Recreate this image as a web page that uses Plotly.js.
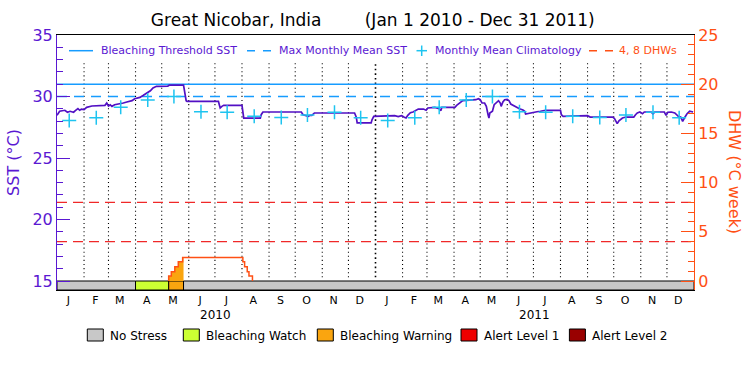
<!DOCTYPE html>
<html>
<head>
<meta charset="utf-8">
<script src="https://cdn.plot.ly/plotly-3.0.1.min.js"></script>
<style>html,body{margin:0;padding:0;background:#fff}#chart{width:750px;height:375px}</style>
</head>
<body>
<div id="chart"></div>
<script>
// ---------------- data ----------------
const sstDates = ['2010-01-01','2010-01-04','2010-01-10','2010-01-13','2010-01-16','2010-01-20','2010-01-22','2010-01-25','2010-01-27','2010-01-29',
'2010-02-01','2010-02-04','2010-02-10','2010-02-25','2010-02-27','2010-03-01','2010-03-03','2010-03-05','2010-03-08','2010-03-14',
'2010-03-18','2010-03-22','2010-03-28','2010-03-31','2010-04-06','2010-04-10','2010-04-14','2010-04-18','2010-04-21','2010-04-25',
'2010-05-08','2010-05-10','2010-05-26','2010-05-27','2010-05-28','2010-05-29','2010-05-30','2010-07-05','2010-07-06','2010-07-07',
'2010-07-09','2010-07-11','2010-08-01','2010-08-02','2010-08-03','2010-08-22','2010-08-23','2010-08-25','2010-10-08','2010-10-10',
'2010-10-14','2010-10-16','2010-10-18','2010-10-20','2010-10-23','2010-12-08','2010-12-10','2010-12-11','2010-12-27','2010-12-28',
'2010-12-30','2011-01-08','2011-01-12','2011-01-23','2011-01-27','2011-01-31','2011-02-03','2011-02-05','2011-02-07','2011-02-10',
'2011-02-13','2011-02-15','2011-02-19','2011-02-25','2011-02-28','2011-03-02','2011-03-10','2011-03-15','2011-03-17','2011-03-18',
'2011-04-02','2011-04-04','2011-04-07','2011-04-11','2011-04-26','2011-04-29','2011-05-01','2011-05-03','2011-05-06','2011-05-08',
'2011-05-10','2011-05-11','2011-05-12','2011-05-15','2011-05-17','2011-05-20','2011-05-22','2011-05-24','2011-05-25','2011-05-27',
'2011-05-29','2011-06-01','2011-06-03','2011-06-05','2011-06-08','2011-06-11','2011-06-15','2011-06-19','2011-06-21','2011-06-22',
'2011-06-25','2011-06-29','2011-07-05','2011-07-09','2011-07-15','2011-08-01','2011-08-02','2011-08-04','2011-08-07','2011-08-09',
'2011-09-01','2011-09-04','2011-09-30','2011-10-02','2011-10-04','2011-10-05','2011-10-07','2011-10-11','2011-10-15','2011-10-24',
'2011-10-26','2011-10-28','2011-10-31','2011-11-03','2011-11-05','2011-11-13','2011-11-15','2011-11-17','2011-11-28','2011-11-30',
'2011-12-02','2011-12-06','2011-12-10','2011-12-14','2011-12-17','2011-12-19','2011-12-21','2011-12-24','2011-12-27','2011-12-31'];
const sstValues = [28.47,28.80,28.88,28.72,28.80,28.72,28.85,29.01,28.88,28.98,
28.93,29.12,29.23,29.28,29.47,29.23,29.33,29.20,29.33,29.39,
29.47,29.55,29.66,29.82,29.93,30.10,30.28,30.47,30.69,30.83,
30.85,30.93,30.93,30.47,30.15,29.66,29.61,29.61,29.33,29.07,
29.20,29.28,29.28,28.80,28.25,28.25,28.52,28.74,28.74,28.52,
28.39,28.39,28.47,28.47,28.66,28.66,28.31,27.85,27.85,28.11,
28.39,28.39,28.44,28.44,28.36,28.44,28.31,28.25,28.47,28.68,
28.74,28.80,28.98,28.98,28.88,29.07,29.12,29.01,28.85,29.12,
29.12,29.28,29.47,29.66,29.74,29.82,29.74,29.47,29.47,29.20,
28.52,28.25,28.66,28.80,29.33,29.55,29.66,29.47,29.20,29.55,
29.74,29.77,29.66,29.39,29.28,29.12,29.01,28.90,28.80,28.58,
28.63,28.72,28.76,28.80,28.88,28.88,28.52,28.39,28.39,28.44,
28.44,28.33,28.33,28.20,27.98,27.79,28.03,28.25,28.33,28.33,
28.52,28.66,28.74,28.60,28.74,28.74,28.58,28.74,28.74,28.47,
28.72,28.74,28.66,28.39,28.31,27.98,28.25,28.60,28.80,28.74];

const years = [2010, 2011];
const monthLetters = ['J','F','M','A','M','J','J','A','S','O','N','D'];
const climatology = [28.05,28.28,29.12,29.72,30.00,28.76,28.72,28.40,28.30,28.50,28.72,28.27];
const maxMonthlyMean = 30.0;
const bleachingThreshold = 31.0;
const dhwLevels = [4, 8];

const dhwDates = ['2010-05-09','2010-05-09','2010-05-12','2010-05-16','2010-05-20','2010-05-25','2010-08-02','2010-08-04','2010-08-07','2010-08-09','2010-08-13'];
const dhwValues = [0,0.5,0.95,1.45,1.95,2.4,1.95,1.45,0.95,0.5,0];

const stressStart = ['2010-01-01','2010-04-01','2010-05-09','2010-05-26'];
const stressEnd   = ['2010-04-01','2010-05-09','2010-05-26','2012-01-01'];
const stressLevel = [0,1,2,0];
const stressNames = ['No Stress','Bleaching Watch','Bleaching Warning','Alert Level 1','Alert Level 2'];
const stressColors = ['#c8c8c8','#ccff33','#faa50f','#ee0000','#990000'];

const legendNames = ['Bleaching Threshold SST','Max Monthly Mean SST','Monthly Mean Climatology','4, 8 DHWs'];

// ---------------- styling ----------------
const FONT = 'DejaVu Sans';
const PURPLE = '#5a18d2';
const ORANGE = '#ff5014';
const BLUE = '#169cff';
const CYAN = '#1ec4f0';
const DHWRED = '#f02828';
const START = '2010-01-01', END = '2012-01-01';
const sstMin = 14.27, sstMax = 35, dhwMin = -0.915, dhwMax = 25;

function ms(d){ const p=d.split('-').map(Number); return Date.UTC(p[0],p[1]-1,p[2]); }
function pad(n){ return (n<10?'0':'')+n; }

const climDates = [], climVals = [];
years.forEach(y => climatology.forEach((v,i) => { climDates.push(y+'-'+pad(i+1)+'-15'); climVals.push(v); }));
const tickVals = [], tickText = [];
years.forEach(y => monthLetters.forEach((m,i) => { tickVals.push(y+'-'+pad(i+1)+'-14'); tickText.push(m); }));

// warning fill from DHW data limited to warning period
const warnIdx = stressLevel.indexOf(2);
const wS = ms(stressStart[warnIdx]), wE = ms(stressEnd[warnIdx]);
const fillX = [], fillY = [];
dhwDates.forEach((d,i)=>{ const t=ms(d); if(t>=wS && t<=wE){ fillX.push(d); fillY.push(dhwValues[i]); } });
fillX.push(stressEnd[warnIdx]); fillY.push(fillY[fillY.length-1]);
fillX.push(stressEnd[warnIdx]); fillY.push(0);

const dhwRefX = [], dhwRefY = [];
dhwLevels.forEach(l => { dhwRefX.push(START, END, null); dhwRefY.push(l, l, null); });

const traces = [
  { type:'bar', x: stressStart, y: stressStart.map(()=> -dhwMin), base: dhwMin,
    width: stressStart.map((s,i)=> ms(stressEnd[i]) - ms(s)), offset: 0,
    marker:{ color: stressLevel.map(l=>stressColors[l]), line:{color:'#000', width:1} },
    yaxis:'y2', showlegend:false, hoverinfo:'skip', name:'Stress level' },
  { type:'scatter', mode:'lines', x: dhwRefX, y: dhwRefY, yaxis:'y2', name: legendNames[3], showlegend:false,
    line:{color:DHWRED, width:1.2, dash:'10px,6px'} },
  { type:'scatter', mode:'lines', x: fillX, y: fillY, yaxis:'y2', fill:'tozeroy',
    fillcolor: stressColors[2], line:{width:0, shape:'hv'}, showlegend:false, hoverinfo:'skip' },
  { type:'scatter', mode:'lines', x: dhwDates, y: dhwValues, yaxis:'y2', name:'DHW',
    line:{color:ORANGE, width:1.5, shape:'hv'}, showlegend:false },
  { type:'scatter', mode:'lines', x:[START, END], y:[bleachingThreshold, bleachingThreshold],
    name: legendNames[0], showlegend:false, line:{color:BLUE, width:1.5} },
  { type:'scatter', mode:'lines', x:[START, END], y:[maxMonthlyMean, maxMonthlyMean],
    name: legendNames[1], showlegend:false, line:{color:BLUE, width:1.5, dash:'10px,7px'} },
  { type:'scatter', mode:'lines', x: sstDates, y: sstValues, name:'SST', line:{color:'#5210c4', width:1.7},
    showlegend:false },
  { type:'scatter', mode:'markers', x: climDates, y: climVals, name: legendNames[2], showlegend:false,
    marker:{symbol:'cross-thin', size:10, line:{color:CYAN, width:1.5}, color:CYAN} }
];

// geometry helpers (pixel -> paper)
const plotL = 57, plotW = 637, plotB = 290, plotH = 255;
const px = v => (v - plotL)/plotW;
const py = v => (plotB - v)/plotH;

// month boundary dotted lines
const shapes = [];
years.forEach(y => { for(let m=1;m<=12;m++){ if(y===years[0] && m===1) continue;
  const isYear = (m===1);
  shapes.push({type:'line', xref:'x', yref:'y', x0: y+'-'+pad(m)+'-01', x1: y+'-'+pad(m)+'-01', y0:15.3, y1:32.7,
    line:{color:'#000', width: isYear?1.6:1.1, dash: isYear?'1.6px,3px':'1.1px,3px'}, layer:'below'}); } });

const annotations = [];
// top legend (drawn manually to match the original compact layout)
const legY = py(50.7);
shapes.push({type:'line', xref:'paper', yref:'paper', x0:px(69), x1:px(93), y0:legY, y1:legY, line:{color:BLUE, width:1.5}});
shapes.push({type:'line', xref:'paper', yref:'paper', x0:px(247), x1:px(271), y0:legY, y1:legY, line:{color:BLUE, width:1.5, dash:'8px,8px'}});
shapes.push({type:'line', xref:'paper', yref:'paper', x0:px(416.5), x1:px(427), y0:legY, y1:legY, line:{color:CYAN, width:1.5}});
shapes.push({type:'line', xref:'paper', yref:'paper', x0:px(421.7), x1:px(421.7), y0:py(45.5), y1:py(56), line:{color:CYAN, width:1.5}});
shapes.push({type:'line', xref:'paper', yref:'paper', x0:px(589), x1:px(613), y0:legY, y1:legY, line:{color:ORANGE, width:1.5, dash:'8px,8px'}});
const legTextX = [99, 277, 433, 617];
const legColors = [PURPLE, PURPLE, PURPLE, ORANGE];
legendNames.forEach((n,i) => annotations.push({xref:'paper', yref:'paper', x:px(legTextX[i]), y:legY, xanchor:'left', yanchor:'middle',
  text:n, showarrow:false, font:{family:FONT, size:11, color:legColors[i]}}));

// stress legend (below plot)
const boxX = [87.3, 183.3, 317.3, 461, 569.4];
stressNames.forEach((n,i) => {
  shapes.push({type:'rect', xref:'paper', yref:'paper', x0:px(boxX[i]), x1:px(boxX[i]+16), y0:py(329), y1:py(341),
    fillcolor: stressColors[i], line:{color:'#000', width:1}});
  annotations.push({xref:'paper', yref:'paper', x:px(boxX[i]+21), y:py(335.5), xanchor:'left', yanchor:'middle',
    text:n, showarrow:false, font:{family:FONT, size:12, color:'#000'}});
});
years.forEach(y => annotations.push({xref:'x', yref:'paper', x: y+'-07-02', y: py(315), xanchor:'center', yanchor:'middle',
  text: String(y), showarrow:false, font:{family:FONT, size:12, color:'#000'}}));
annotations.push({xref:'paper', yref:'paper', x: px(735), y: py(172), textangle:90, xanchor:'center', yanchor:'middle',
  text:'DHW (°C week)', showarrow:false, font:{family:FONT, size:16, color:ORANGE}});

const layout = {
  width:750, height:375,
  margin:{l:57, r:56, t:35, b:85},
  paper_bgcolor:'#fff', plot_bgcolor:'#fff',
  font:{family:FONT, color:'#000'},
  title:{text:'Great Nicobar, India\u00a0\u00a0\u00a0\u00a0\u00a0\u00a0\u00a0\u00a0(Jan 1 2010 - Dec 31 2011)',
    font:{family:FONT, size:17, color:'#000'}, x:0.497, xanchor:'center', y:1-20/375, yanchor:'middle'},
  showlegend:false,
  xaxis:{type:'date', range:[START, END], showgrid:false, zeroline:false, showline:true, linecolor:'#000', linewidth:1,
    mirror:true, tickmode:'array', tickvals:tickVals, ticktext:tickText, ticks:'', tickfont:{family:FONT, size:11, color:'#000'}},
  yaxis:{range:[sstMin, sstMax], tick0:15, dtick:5, showgrid:false, zeroline:false, showline:true, linecolor:PURPLE,
    ticks:'inside', ticklen:13, tickcolor:PURPLE, tickfont:{family:FONT, size:16, color:PURPLE},
    minor:{ticks:'inside', ticklen:6, dtick:1, tick0:15, tickcolor:PURPLE, showgrid:false},
    title:{text:'SST (°C)', font:{family:FONT, size:16, color:PURPLE}, standoff:8}},
  yaxis2:{overlaying:'y', side:'right', range:[dhwMin, dhwMax], tick0:0, dtick:5, showgrid:false, zeroline:false,
    showline:true, linecolor:ORANGE, ticks:'inside', ticklen:13, tickcolor:ORANGE, tickfont:{family:FONT, size:16, color:ORANGE},
    minor:{ticks:'inside', ticklen:6, dtick:1, tick0:0, tickcolor:ORANGE, showgrid:false}},
  shapes: shapes, annotations: annotations, bargap:0
};

Plotly.newPlot('chart', traces, layout, {staticPlot:true, displayModeBar:false});
</script>
</body>
</html>
